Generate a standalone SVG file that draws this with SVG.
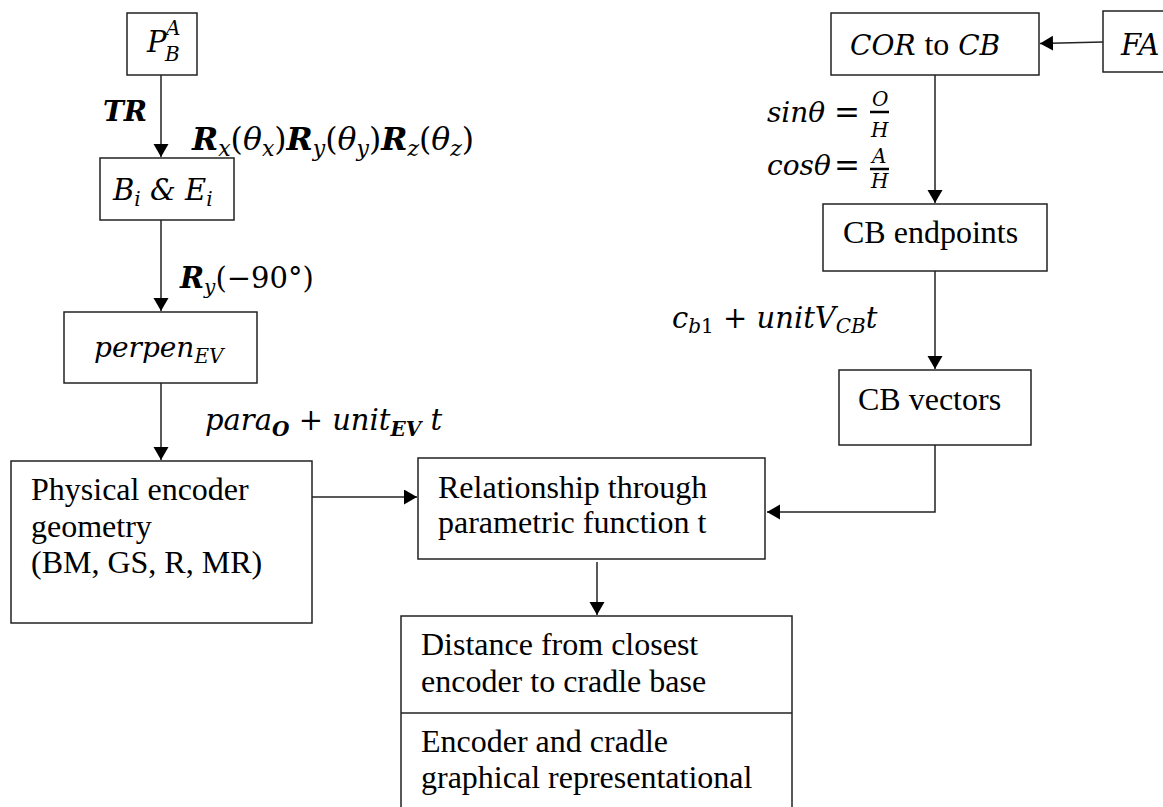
<svg xmlns="http://www.w3.org/2000/svg" width="1163" height="807" viewBox="0 0 1163 807">
<style>
.box{fill:#fff;stroke:#222;stroke-width:1.5}
.ln{fill:none;stroke:#222;stroke-width:1.5}
.t{font-family:"Liberation Serif","Times New Roman",serif;font-size:32px;fill:#000}
.m{font-family:"DejaVu Serif",serif;font-style:italic;font-size:28px;fill:#000}
.s{font-size:20px}
.f{font-family:"DejaVu Serif",serif;font-style:italic;font-size:20px;fill:#000}
.b{font-weight:bold}
.u{font-style:normal}
.eq{font-style:normal;font-size:31px}
</style>
<defs>
<marker id="ah" markerUnits="userSpaceOnUse" markerWidth="14" markerHeight="16" refX="13" refY="7.5" orient="auto">
<path d="M0,0 L13,7.5 L0,15 Z" fill="#000"/>
</marker>
</defs>
<g id="connectors">
<line class="ln" x1="161" y1="75" x2="161" y2="157" marker-end="url(#ah)"/>
<line class="ln" x1="161" y1="220" x2="161" y2="311" marker-end="url(#ah)"/>
<line class="ln" x1="161" y1="383" x2="161" y2="460" marker-end="url(#ah)"/>
<line class="ln" x1="312" y1="497" x2="417" y2="497" marker-end="url(#ah)"/>
<line class="ln" x1="597" y1="562" x2="597" y2="615" marker-end="url(#ah)"/>
<line class="ln" x1="935" y1="75" x2="935" y2="203" marker-end="url(#ah)"/>
<line class="ln" x1="935" y1="271" x2="935" y2="369" marker-end="url(#ah)"/>
<polyline class="ln" points="935,445 935,512 767,512" marker-end="url(#ah)"/>
<line class="ln" x1="1103" y1="42" x2="1040" y2="43.5" marker-end="url(#ah)"/>
</g>
<g id="labels">
<text class="m b" x="103" y="121">TR</text>
<text class="m" x="192" y="150" style="font-size:31.5px"><tspan class="b">R</tspan><tspan class="s" dy="6" style="font-size:22px">x</tspan><tspan class="u" dy="-6">(</tspan>θ<tspan class="s" dy="6" style="font-size:22px">x</tspan><tspan class="u" dy="-6">)</tspan><tspan class="b">R</tspan><tspan class="s" dy="6" style="font-size:22px">y</tspan><tspan class="u" dy="-6">(</tspan>θ<tspan class="s" dy="6" style="font-size:22px">y</tspan><tspan class="u" dy="-6">)</tspan><tspan class="b">R</tspan><tspan class="s" dy="6" style="font-size:22px">z</tspan><tspan class="u" dy="-6">(</tspan>θ<tspan class="s" dy="6" style="font-size:22px">z</tspan><tspan class="u" dy="-6">)</tspan></text>
<text class="m" x="180" y="288" style="font-size:29px"><tspan class="b">R</tspan><tspan class="s" dy="6">y</tspan><tspan class="u" dy="-6">(−90°)</tspan></text>
<text class="m" x="205" y="430" style="font-size:29px">para<tspan class="s b" dy="6">O</tspan><tspan class="u" dy="-6"> + </tspan>unit<tspan class="s b" dy="6">EV</tspan><tspan dy="-6"> t</tspan></text>
<text class="m" x="767" y="122">sinθ</text>
<text class="m eq" x="834" y="123">=</text>
<line x1="870" y1="112" x2="889" y2="112" stroke="#000" stroke-width="2.5"/>
<text class="f" x="872" y="106">O</text>
<text class="f" x="871" y="137">H</text>
<text class="m" x="767" y="175">cosθ</text>
<text class="m eq" x="834" y="176">=</text>
<line x1="870" y1="169" x2="889" y2="169" stroke="#000" stroke-width="2.5"/>
<text class="f" x="872" y="163">A</text>
<text class="f" x="871" y="188">H</text>
<text class="m" x="672" y="328" style="font-size:29px">c<tspan class="s" dy="5">b</tspan><tspan class="s u">1</tspan><tspan class="u" dy="-5"> + </tspan>unitV<tspan class="s" dy="5">CB</tspan><tspan dy="-5">t</tspan></text>
</g>
<g id="n-pba">
<rect class="box" x="127" y="13" width="70" height="62"/>
<text class="m" x="147" y="52" style="font-size:29px">P</text>
<text class="m s" x="165" y="61">B</text>
<text class="m s" x="166" y="35">A</text>
</g>
<g id="n-bie">
<rect class="box" x="100" y="158" width="134" height="62"/>
<text class="m" x="113" y="200" style="font-size:29px">B<tspan class="s" dy="6">i</tspan><tspan dy="-6"> &amp; E</tspan><tspan class="s" dy="6">i</tspan></text>
</g>
<g id="n-perpen">
<rect class="box" x="64" y="312" width="193" height="71"/>
<text class="m" x="94" y="357">perpen<tspan class="s" dy="6">EV</tspan></text>
</g>
<g id="n-physical">
<rect class="box" x="11" y="461" width="301" height="162"/>
<text class="t" x="31" y="500">Physical encoder</text>
<text class="t" x="31" y="537">geometry</text>
<text class="t" x="31" y="573">(BM, GS, R, MR)</text>
</g>
<g id="n-relationship">
<rect class="box" x="418" y="458" width="347" height="101"/>
<text class="t" x="438" y="498">Relationship through</text>
<text class="t" x="438" y="533">parametric function t</text>
</g>
<g id="n-distance">
<rect class="box" x="401" y="616" width="391" height="210"/>
<line class="ln" x1="401" y1="713" x2="792" y2="713"/>
<text class="t" x="421" y="655">Distance from closest</text>
<text class="t" x="421" y="692">encoder to cradle base</text>
<text class="t" x="421" y="752">Encoder and cradle</text>
<text class="t" x="421" y="788">graphical representational</text>
</g>
<g id="n-cor">
<rect class="box" x="831" y="13" width="208" height="62"/>
<text class="m" x="850" y="55">COR <tspan class="t u">to</tspan> CB</text>
</g>
<g id="n-fa">
<rect class="box" x="1103" y="11" width="90" height="61"/>
<text class="m" x="1121" y="55" style="font-size:29px">FA</text>
</g>
<g id="n-cbend">
<rect class="box" x="823" y="204" width="224" height="67"/>
<text class="t" x="843" y="243">CB endpoints</text>
</g>
<g id="n-cbvec">
<rect class="box" x="839" y="370" width="192" height="75"/>
<text class="t" x="858" y="410">CB vectors</text>
</g>
</svg>
